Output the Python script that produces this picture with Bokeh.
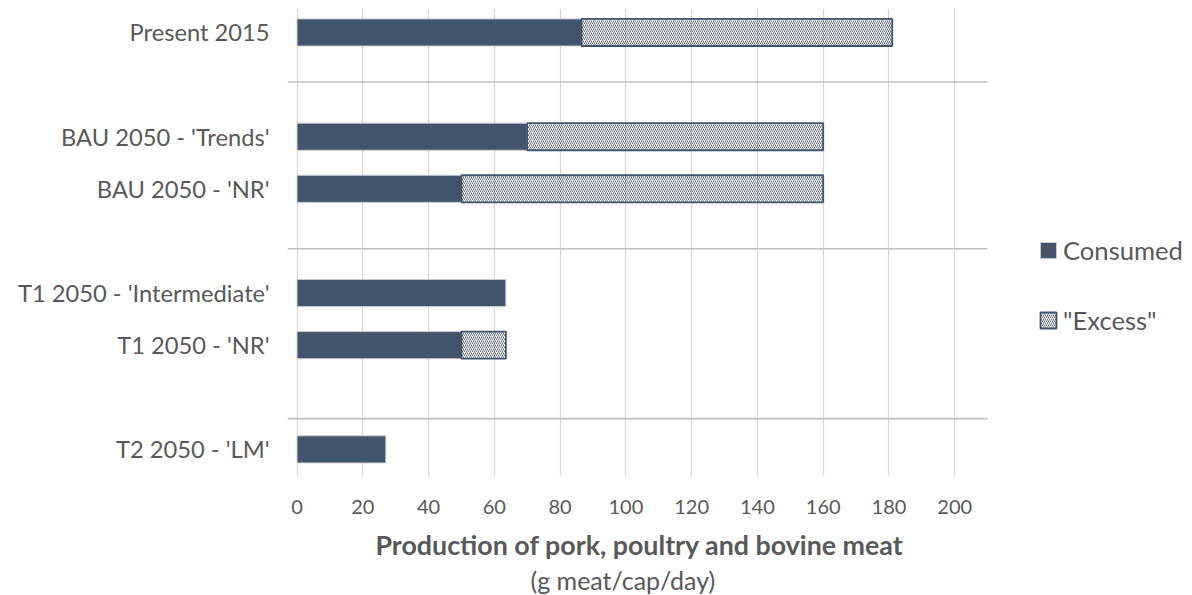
from bokeh.plotting import figure
from bokeh.models import Range1d, FixedTicker, Legend, LegendItem, Title, ColumnDataSource
from bokeh.embed import file_html
from bokeh.resources import INLINE

# ---- data ----
scenarios = ["Present 2015", "BAU 2050 - 'Trends'", "BAU 2050 - 'NR'",
             "T1 2050 - 'Intermediate'", "T1 2050 - 'NR'", "T2 2050 - 'LM'"]
consumed = [86.5, 70, 50, 63.5, 50, 27]
excess = [94.5, 90, 110, 0, 13.5, 0]
x_ticks = [0, 20, 40, 60, 80, 100, 120, 140, 160, 180, 200]
series_names = ["Consumed", "\"Excess\""]
x_title = "Production of pork, poultry and bovine meat"
x_subtitle = "(g meat/cap/day)"

# ---- layout (slot positions, group separators) ----
slots = [0, 2, 3, 5, 6, 8]
separators = [0.95, 4.15, 7.41]
X_MIN, X_SEP_END, X_MAX = -2.9, 210, 272.3

DARK = "#44546A"
TXT = "#595959"
FONT = "Lato"

p = figure(width=1192, height=595, output_backend="svg", toolbar_location=None,
           x_range=Range1d(X_MIN, X_MAX), y_range=Range1d(8.52, -0.46),
           min_border_left=287, min_border_right=0, min_border_top=8,
           min_border_bottom=119)
p.outline_line_color = None
p.background_fill_color = "white"

cons_src = ColumnDataSource(dict(y=slots, left=[0] * len(consumed), right=consumed))
ex_y, ex_l, ex_r = [], [], []
for s, c, e in zip(slots, consumed, excess):
    if e > 0:
        ex_y.append(s)
        ex_l.append(c)
        ex_r.append(c + e)
ex_src = ColumnDataSource(dict(y=ex_y, left=ex_l, right=ex_r))

r1 = p.hbar(y="y", left="left", right="right", height=0.52, source=cons_src,
            fill_color=DARK, line_color="#C5CAD2", line_width=1)
r2 = p.hbar(y="y", left="left", right="right", height=0.52, source=ex_src,
            fill_color=None, hatch_pattern="/", hatch_color=DARK, hatch_scale=4,
            hatch_weight=1, hatch_alpha=0.8, line_color=DARK, line_width=1.8)

# group separators
p.segment(x0=[X_MIN] * len(separators), x1=[X_SEP_END] * len(separators),
          y0=separators, y1=separators, line_color="#BFBFBF", line_width=1.6)

# grid
p.ygrid.visible = False
p.xgrid.ticker = FixedTicker(ticks=x_ticks)
p.xgrid.grid_line_color = "#D9D9D9"
p.xgrid.grid_line_width = 1.3
p.xgrid.level = "underlay"

# x axis
xa = p.xaxis[0]
xa.ticker = FixedTicker(ticks=x_ticks)
xa.axis_line_color = None
xa.major_tick_line_color = None
xa.minor_tick_line_color = None
xa.major_tick_out = 0
xa.major_label_standoff = 23
xa.major_label_text_font = FONT
xa.major_label_text_font_size = "20px"
xa.major_label_text_color = TXT

# axis title lines as titles below the axis
t1 = Title(text=x_title, align="left", text_font=FONT, text_font_size="26.8px",
           text_font_style="bold", text_color=TXT, offset=88, standoff=20)
t2 = Title(text=x_subtitle, align="left", text_font=FONT, text_font_size="25px",
           text_font_style="normal", text_color=TXT, offset=243, standoff=0)
try:
    t2.standoff = -16
except Exception:
    pass
p.add_layout(t1, "below")
p.add_layout(t2, "below")

# y axis
ya = p.yaxis[0]
ya.ticker = FixedTicker(ticks=slots)
ya.major_label_overrides = {s: lab for s, lab in zip(slots, scenarios)}
ya.axis_line_color = None
ya.major_tick_line_color = None
ya.minor_tick_line_color = None
ya.major_tick_out = 0
ya.major_label_standoff = 18
ya.major_label_text_font = FONT
ya.major_label_text_font_size = "23.7px"
ya.major_label_text_color = TXT

legend = Legend(items=[LegendItem(label=series_names[0], renderers=[r1]),
                       LegendItem(label=series_names[1], renderers=[r2])],
                location=(751, 141), orientation="vertical",
                glyph_width=20, glyph_height=20, label_height=20, spacing=40,
                label_standoff=5, padding=0, margin=0,
                label_text_font=FONT, label_text_font_size="25.6px",
                label_text_color=TXT, border_line_color=None,
                background_fill_alpha=0)
p.add_layout(legend, "center")

open("out.html", "w").write(file_html(p, INLINE))
